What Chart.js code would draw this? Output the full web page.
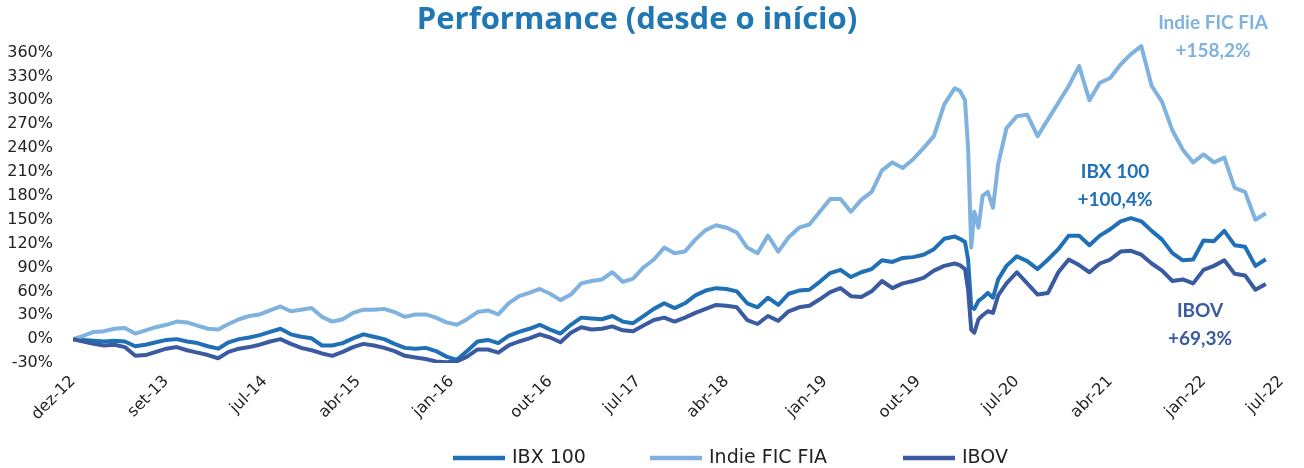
<!DOCTYPE html>
<html>
<head>
<meta charset="utf-8">
<title>Performance (desde o início)</title>
<script src="https://cdn.jsdelivr.net/npm/chart.js@4.4.1/dist/chart.umd.min.js"></script>
<style>
    html, body { margin: 0; padding: 0; background: #fff; }
</style>
</head>
<body>
<canvas id="perfChart" width="1304" height="468"></canvas>
<script>
// months since dez-12 (a few extra points around the march 2020 crash)
const months = [
    0, 1, 2, 3, 4, 5, 6, 7, 8, 9,
    10, 11, 12, 13, 14, 15, 16, 17, 18, 19,
    20, 21, 22, 23, 24, 25, 26, 27, 28, 29,
    30, 31, 32, 33, 34, 35, 36, 37, 38, 39,
    40, 41, 42, 43, 44, 45, 46, 47, 48, 49,
    50, 51, 52, 53, 54, 55, 56, 57, 58, 59,
    60, 61, 62, 63, 64, 65, 66, 67, 68, 69,
    70, 71, 72, 73, 74, 75, 76, 77, 78, 79,
    80, 81, 82, 83, 84, 85,
    85.5, 86, 86.3, 86.6, 86.9, 87.3, 87.7, 88.2, 88.7, 89.2,
    90, 91, 92, 93, 94, 95, 96, 97, 98, 99,
    100, 101, 102, 103, 104, 105, 106, 107, 108, 109,
    110, 111, 112, 113, 114, 115
];

const indie = [
    0, 4, 9, 10, 13, 14, 7, 11, 15, 18,
    22, 21, 17, 13, 12, 19, 25, 29, 31, 36,
    41, 35, 37, 39, 28, 22, 25, 33, 37, 37,
    38, 34, 28, 31, 31, 27, 21, 18, 25, 34,
    36, 31, 45, 54, 58, 63, 57, 49, 56, 70,
    73, 75, 84, 72, 76, 90, 100, 115, 108, 110,
    125, 137, 143, 140, 134, 115, 108, 130, 110, 128,
    140, 144, 160, 176, 176, 160, 175, 185, 212, 222,
    215, 226, 240, 255, 295, 315,
    312, 300, 240, 115, 160, 140, 180, 185, 165, 220,
    265, 280, 282, 255, 276, 297, 318, 343, 300, 322,
    328, 345, 358, 368, 318, 298, 262, 238, 222, 232,
    222, 228, 190, 185, 150, 158.2
];

const ibx = [
    0, -1, -2, -3, -2, -3, -9, -7, -4, -1,
    0, -3, -5, -9, -12, -4, 0, 2, 5, 9,
    13, 6, 3, 1, -8, -8, -5, 1, 6, 3,
    0, -6, -11, -12, -11, -15, -22, -26, -15, -3,
    -1, -5, 4, 9, 13, 18, 12, 7, 18, 27,
    26, 25, 29, 22, 20, 29, 38, 45, 39, 45,
    55, 61, 64, 63, 60, 45, 40, 52, 43, 57,
    61, 62, 72, 83, 87, 78, 84, 88, 99, 97,
    102, 103, 106, 113, 126, 129,
    126, 122, 100, 40, 38, 48, 52, 58, 52, 75,
    92, 104, 98, 88, 100, 113, 130, 130, 118, 130,
    138, 148, 152, 148, 136, 125, 108, 99, 100, 124,
    123, 136, 118, 116, 92, 100.4
];

const ibov = [
    0, -3, -6, -8, -7, -10, -21, -20, -16, -12,
    -10, -14, -17, -20, -24, -16, -12, -10, -7, -3,
    0, -6, -11, -14, -18, -21, -16, -10, -6, -8,
    -11, -15, -21, -23, -25, -28, -29, -28, -22, -13,
    -13, -17, -8, -3, 1, 6, 2, -4, 8, 15,
    12, 13, 16, 11, 10, 17, 24, 27, 22, 27,
    33, 38, 43, 42, 40, 24, 19, 29, 23, 35,
    40, 42, 50, 59, 64, 54, 53, 60, 73, 64,
    70, 73, 77, 86, 92, 95,
    93, 88, 62, 12, 8, 25, 30, 35, 33, 55,
    70, 84, 70, 56, 58, 84, 100, 93, 84, 95,
    100, 110, 111, 106, 95, 86, 73, 75, 70, 87,
    92, 99, 82, 80, 62, 69.3
];

const tickMonths = [0, 9, 18.5, 27.5, 36.5, 46, 54.5, 63, 72.5, 81.5, 91, 100, 109, 116.5];
const tickLabels = ["dez-12", "set-13", "jul-14", "abr-15", "jan-16", "out-16", "jul-17",
    "abr-18", "jan-19", "out-19", "jul-20", "abr-21", "jan-22", "jul-22"];

const seriesNames = ["IBX 100", "Indie FIC FIA", "IBOV"];

function toPoints(values) {
    return values.map((v, i) => ({ x: months[i], y: v }));
}

function fmtPct(v) {
    return "+" + v.toFixed(1).replace(".", ",") + "%";
}

const tickFont = "'DejaVu Sans', sans-serif";

// title, end labels and legend drawn on top of the chart
const decorations = {
    id: "decorations",
    afterDraw(chart) {
        const ctx = chart.ctx;
        const ds = chart.data.datasets;
        ctx.save();

        ctx.fillStyle = "#1f77b4";
        ctx.font = "bold 31px 'Open Sans', sans-serif";
        ctx.textAlign = "center";
        ctx.textBaseline = "middle";
        ctx.fillText("Performance (desde o início)", 637, 20);

        const endLabels = [
            { i: 1, x: 1213, y: 23 },
            { i: 0, x: 1115, y: 172 },
            { i: 2, x: 1200, y: 311 }
        ];
        ctx.font = "bold 19px Lato, sans-serif";
        endLabels.forEach(l => {
            const d = ds[l.i];
            const last = d.data[d.data.length - 1].y;
            ctx.fillStyle = d.borderColor;
            ctx.fillText(d.label, l.x, l.y);
            ctx.fillText(fmtPct(last), l.x, l.y + 28);
        });

        // legend
        ctx.font = "19px " + tickFont;
        ctx.textAlign = "left";
        const legendX = [453, 650, 903];
        const y = 458;
        ds.forEach((d, i) => {
            const x = legendX[i];
            ctx.strokeStyle = d.borderColor;
            ctx.lineWidth = 4.5;
            ctx.beginPath();
            ctx.moveTo(x, y);
            ctx.lineTo(x + 52, y);
            ctx.stroke();
            ctx.fillStyle = "#222";
            ctx.fillText(d.label, x + 59, y);
        });

        ctx.restore();
    }
};

new Chart(document.getElementById("perfChart"), {
    type: "line",
    data: {
        datasets: [
            {
                label: seriesNames[0],
                data: toPoints(ibx),
                borderColor: "#1f70b6",
                backgroundColor: "#1f70b6",
                order: 3
            },
            {
                label: seriesNames[1],
                data: toPoints(indie),
                borderColor: "#7fb2de",
                backgroundColor: "#7fb2de",
                order: 2
            },
            {
                label: seriesNames[2],
                data: toPoints(ibov),
                borderColor: "#3a5aa1",
                backgroundColor: "#3a5aa1",
                order: 1
            }
        ]
    },
    options: {
        responsive: false,
        animation: false,
        layout: { padding: { top: 43, right: 13, left: 0, bottom: 0 } },
        elements: {
            line: { borderWidth: 4, tension: 0, borderJoinStyle: "round" },
            point: { radius: 0 }
        },
        plugins: {
            legend: { display: false },
            tooltip: { enabled: false }
        },
        scales: {
            x: {
                type: "linear",
                min: 0,
                max: 117.2,
                grid: { display: false, drawTicks: false },
                border: { display: false },
                afterBuildTicks: s => { s.ticks = tickMonths.map(v => ({ value: v })); },
                afterFit: s => { s.height = 105; },
                ticks: {
                    autoSkip: false,
                    minRotation: 45,
                    maxRotation: 45,
                    padding: 9,
                    color: "#222",
                    font: { family: tickFont, size: 16 },
                    callback: (v, i) => tickLabels[i]
                }
            },
            y: {
                min: -30,
                max: 372,
                grid: { display: false, drawTicks: false },
                border: { display: false },
                afterFit: s => { s.width = 73; },
                ticks: {
                    stepSize: 30,
                    includeBounds: false,
                    padding: 20,
                    color: "#222",
                    font: { family: tickFont, size: 16 },
                    callback: v => v + "%"
                }
            }
        }
    },
    plugins: [decorations]
});
</script>
</body>
</html>
